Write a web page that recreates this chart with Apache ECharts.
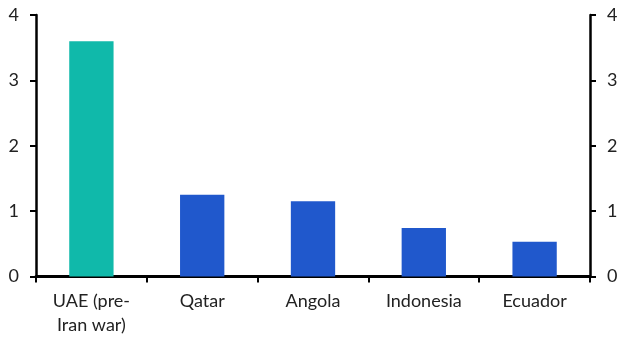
<!DOCTYPE html>
<html>
<head>
<meta charset="utf-8">
<script src="https://cdn.jsdelivr.net/npm/echarts@6/dist/echarts.min.js"></script>
<style>
html,body{margin:0;padding:0;background:#fff;}
#c{width:632px;height:357px;}
</style>
</head>
<body>
<div id="c"></div>
<script>
const categories = ['UAE (pre-\nIran war)', 'Qatar', 'Angola', 'Indonesia', 'Ecuador'];
const values = [3.6, 1.25, 1.15, 0.74, 0.53];
const barColors = ['#10b9aa', '#2058cc', '#2058cc', '#2058cc', '#2058cc'];
const yTicks = [0, 1, 2, 3, 4];

const chart = echarts.init(document.getElementById('c'), null, {renderer: 'canvas'});
const font = 'Lato, "Open Sans", sans-serif';
const yAxisCommon = {
  type: 'value', min: yTicks[0], max: yTicks[yTicks.length - 1], interval: 1,
  axisLine: {show: true, lineStyle: {color: '#000', width: 2.5}},
  axisTick: {show: true, length: 6, lineStyle: {color: '#000', width: 2}},
  splitLine: {show: false},
  axisLabel: {color: '#222', fontSize: 18, fontFamily: font, margin: 17}
};
chart.setOption({
  animation: false,
  grid: {left: 36, right: 42, top: 15, bottom: 80.5, containLabel: false},
  xAxis: {
    type: 'category', data: categories,
    axisLine: {lineStyle: {color: '#000', width: 3}},
    axisTick: {show: true, length: 6, lineStyle: {color: '#000', width: 2}},
    axisLabel: {color: '#222', fontSize: 18, fontFamily: font, margin: 13, lineHeight: 24}
  },
  yAxis: [
    Object.assign({position: 'left'}, yAxisCommon),
    Object.assign({position: 'right'}, yAxisCommon)
  ],
  series: [{
    type: 'bar', data: values.map((v, i) => ({value: v, itemStyle: {color: barColors[i]}})),
    barWidth: '40%'
  }]
});
</script>
</body>
</html>
